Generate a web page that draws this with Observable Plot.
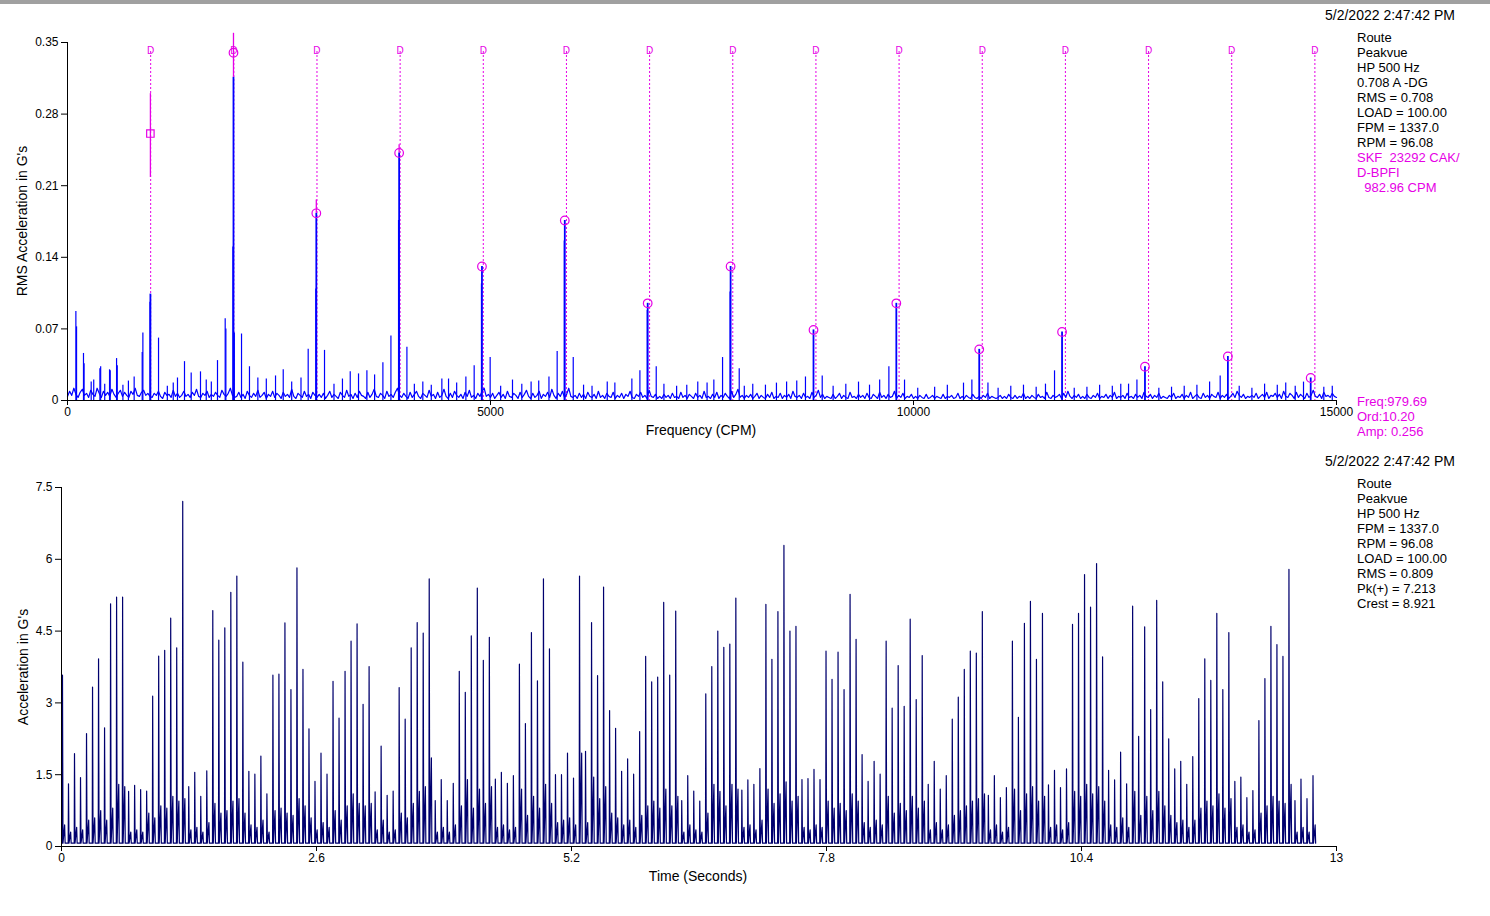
<!DOCTYPE html>
<html><head><meta charset="utf-8">
<script src="https://cdn.jsdelivr.net/npm/d3@7"></script>
<script src="https://cdn.jsdelivr.net/npm/@observablehq/plot@0.6"></script>
<style>
html,body{margin:0;padding:0;background:#fff;}
body{width:1490px;height:916px;position:relative;overflow:hidden;font-family:"Liberation Sans",Arial,sans-serif;color:#000;}
#topbar{position:absolute;left:0;top:0;width:1490px;height:4px;background:#a0a0a0;}
.abs{position:absolute;white-space:pre;line-height:15px;font-size:13px;}
.mag{color:#e600e6;}
.date{font-size:14px;}
.title{position:absolute;font-size:14px;white-space:pre;transform:translate(-50%,-50%);}
.ytitle{position:absolute;font-size:14px;white-space:pre;transform:translate(-50%,-50%) rotate(-90deg);}
#top,#bottom{position:absolute;left:0;}
#top{top:0;} #bottom{top:450px;}
</style></head>
<body>
<div id="topbar"></div>
<div id="top"></div>
<div id="bottom"></div>
<div id="texts"></div>
<script>
// ---------- Spectrum (top) ----------
const freqTicks = [0, 5000, 10000, 15000];
const ampTicks = [0, 0.07, 0.14, 0.21, 0.28, 0.35];
const specFloorStep = 25; // CPM between floor samples
// noise floor, in milli-G
const specFloorMilliG = [
4,9,5,12,6,3,8,11,5,7, 3,10,6,4,12,7,3,9,5,8, 4,11,6,3,7,10,4,8,5,3, 9,6,12,5,4,8,10,5,7,4,
3,7,5,9,4,2,8,5,6,3, 10,4,7,3,5,9,4,6,3,8, 5,11,4,3,7,5,9,3,6,4, 8,5,3,10,6,4,7,12,5,3,
4,8,3,6,2,9,5,3,7,4, 10,3,5,8,2,6,4,9,3,7, 5,2,8,4,6,3,11,4,2,7, 5,3,9,4,6,2,8,5,3,6,
3,7,2,5,9,3,6,4,2,8, 5,3,10,4,6,2,7,3,9,5, 4,2,8,3,6,11,4,3,7,5, 2,9,4,6,3,8,12,5,3,7,
4,2,8,3,6,9,4,2,7,5, 3,10,4,6,2,8,3,5,11,4, 2,7,3,9,5,3,6,2,8,4, 10,3,5,2,7,4,9,12,4,6,
3,7,2,5,8,3,6,2,9,4, 3,7,5,2,8,3,6,10,4,2, 7,3,5,9,2,6,4,8,3,11, 5,2,7,4,9,3,6,12,4,3,
5,2,7,3,6,2,8,4,3,6, 2,9,3,5,2,7,4,3,8,2, 5,3,7,2,6,4,9,3,2,6, 4,8,3,5,2,10,4,3,6,2,
4,2,6,3,5,2,7,3,4,2, 8,3,5,2,6,4,2,7,3,5, 2,9,3,4,2,6,3,8,2,5, 3,7,4,2,9,3,6,11,3,5,
2,5,3,6,2,4,7,2,5,3, 2,6,3,8,2,4,3,7,2,5, 3,6,2,9,4,3,5,2,7,3, 4,2,8,3,5,10,3,6,2,4,
3,2,6,2,4,7,2,5,3,2, 8,3,4,2,6,3,5,2,7,3, 2,6,4,2,8,3,5,2,6,3, 4,9,2,5,3,7,2,4,3,6,
2,4,2,5,3,2,6,2,3,5, 2,4,3,2,6,2,4,3,5,2, 3,7,2,4,2,5,3,2,6,3, 2,4,2,5,3,7,2,4,3,2,
3,5,2,4,2,6,3,2,5,2, 4,3,7,2,4,2,5,3,2,6, 3,4,2,8,3,2,5,3,4,6, 2,7,3,9,4,2,5,3,6,2,
4,2,6,3,2,5,3,7,2,4, 3,6,2,5,3,8,2,4,3,5, 2,7,3,4,2,6,3,5,2,8, 4,3,6,2,5,3,7,2,4,3,
2,5,3,7,2,4,3,6,2,5, 3,8,2,4,6,3,2,7,3,5, 2,6,4,3,8,2,5,3,6,2, 4,7,3,9,5,3,6,2,4,3,
5,3,7,2,4,6,3,8,2,5, 4,7,3,6,2,9,4,3,7,5, 2,8,3,6,4,2,7,3,5,10, 4,3,6,2,8,4,5,3,7,4,
3];
// harmonic peaks of the inner-race defect (measured)
const harmonicFreq = [980,1962,2941,3920,4899,5878,6858,7838,8818,9797,10777,11756,12736,13716,14695];
const harmonicAmp  = [0.104,0.316,0.183,0.242,0.131,0.176,0.095,0.131,0.069,0.095,0.050,0.067,0.033,0.043,0.022];
// peak-marker circles (harmonics 2..15)
const circleFreq = [1962,2941,3920,4899,5878,6858,7838,8818,9797,10777,11756,12736,13716,14695];
const circleAmp  = [0.340,0.183,0.242,0.131,0.176,0.095,0.131,0.069,0.095,0.050,0.067,0.033,0.043,0.022];
// other spectral lines (sidebands, companions, minor peaks)
const lineFreq = [99,107,189,196,280,310,383,392,440,497,505,580,588,655,720,788,883,891,975,1076,1180,1250,1300,1383,1462,1572,1640,1700,1773,1864,1872,1955,1972,
2057,2151,2250,2350,2459,2550,2650,2760,2845,2935,3038,3150,3250,3342,3440,3539,3630,3728,3823,3913,4012,4100,4200,4300,4425,4504,4600,4709,4807,4893,4996,
5120,5260,5370,5480,5570,5691,5788,5872,5978,6100,6200,6380,6470,6671,6766,6853,6959,7050,7200,7320,7450,7560,7640,7743,7832,7940,
8000,8100,8250,8380,8500,8620,8723,8921,9050,9200,9350,9480,9600,9709,9894,10050,10250,10400,10591,10690,10880,11000,11150,11300,11450,11560,11667,11900,
12050,12200,12350,12450,12542,12641,12900,13050,13200,13350,13500,13625,13850,14000,14150,14300,14400,14512,14610,14850,14950];
const lineAmp = [0.087,0.072,0.046,0.036,0.018,0.020,0.031,0.033,0.016,0.030,0.029,0.041,0.034,0.015,0.019,0.023,0.047,0.066,0.096,0.061,0.014,0.017,0.022,0.038,0.027,0.028,0.020,0.018,0.039,0.080,0.070,0.150,0.066,
0.065,0.033,0.022,0.021,0.024,0.030,0.018,0.022,0.050,0.109,0.049,0.016,0.021,0.028,0.026,0.029,0.025,0.037,0.063,0.176,0.052,0.016,0.018,0.015,0.021,0.021,0.017,0.023,0.034,0.114,0.042,
0.014,0.020,0.016,0.018,0.019,0.023,0.048,0.156,0.042,0.015,0.014,0.018,0.017,0.021,0.029,0.088,0.033,0.016,0.014,0.015,0.018,0.017,0.020,0.042,0.106,0.031,
0.014,0.016,0.015,0.017,0.018,0.019,0.023,0.024,0.014,0.016,0.018,0.015,0.020,0.033,0.020,0.012,0.013,0.015,0.017,0.020,0.017,0.012,0.014,0.015,0.013,0.016,0.029,0.012,
0.013,0.015,0.014,0.016,0.016,0.020,0.012,0.013,0.014,0.015,0.018,0.024,0.014,0.012,0.016,0.015,0.017,0.014,0.018,0.013,0.014];
// fault-frequency markers: D-BPFI 982.96 CPM and harmonics
const faultFreq = [982.96,1965.92,2948.88,3931.84,4914.80,5897.76,6880.72,7863.68,8846.64,9829.60,10812.56,11795.52,12778.48,13761.44,14744.40];
// magenta highlighted segments of marked peaks
const segFreq = [980,1962,2941,3920];
const segLow  = [0.218,0.316,0.183,0.242];
const segHigh = [0.300,0.359,0.196,0.250];
// cursor (square drawn where the picture shows it)
const cursorFreq = [979.69];
const cursorAmp = [0.261];

// ---------- Waveform (bottom) ----------
const timeTicks = [0, 2.6, 5.2, 7.8, 10.4, 13];
const accTicks = [0, 1.5, 3, 4.5, 6, 7.5];
const impactStart = 0.01;     // s
const impactPeriod = 0.0613;  // s, spacing of impacts
const waveFloor = 0.07;
const impactAmp = [
3.58,1.31,1.94,1.44,2.36,3.33,3.92,2.48,5.07,5.21,
5.21,1.15,1.28,1.19,1.16,3.14,3.98,4.10,4.77,4.15,
7.21,1.25,1.55,1.05,1.58,4.93,4.31,4.57,5.31,5.65,
3.85,1.57,1.51,1.89,1.10,3.58,3.60,4.67,3.28,5.82,
3.70,2.46,1.36,1.95,1.51,3.45,2.68,3.66,4.29,4.65,
2.97,3.76,1.14,2.10,1.07,1.16,3.32,2.66,4.15,4.68,
4.46,5.59,0.96,1.40,0.96,1.32,3.66,3.22,4.40,5.40,
3.89,4.37,1.41,1.55,1.32,1.48,3.81,2.57,4.47,3.46,
5.59,4.13,1.50,1.50,1.95,1.43,5.65,1.99,4.68,3.57,
5.42,2.84,2.47,1.57,1.83,1.51,2.40,3.97,3.44,3.54,
5.10,3.58,4.92,0.96,1.48,1.16,0.95,3.19,3.76,4.50,
4.16,4.23,5.19,1.18,1.39,1.30,1.63,5.06,3.91,4.91,
6.29,4.50,4.60,1.40,1.42,1.61,1.40,4.08,3.49,4.06,
3.28,5.27,4.33,1.92,1.36,1.78,1.51,4.29,2.89,3.78,
2.93,4.75,3.07,3.99,1.30,1.78,1.20,1.48,2.66,3.12,
3.70,4.08,4.04,4.91,1.07,1.48,1.02,1.23,4.29,2.70,
4.66,5.12,3.91,4.87,1.29,1.59,1.23,1.62,4.64,4.87,
5.68,5.00,5.91,3.96,1.59,1.39,1.97,1.31,5.02,2.30,
4.59,2.86,5.14,3.44,2.25,1.62,1.78,1.30,1.88,3.09,
3.92,3.47,4.87,3.28,4.47,1.36,1.45,1.02,1.17,2.63,
3.51,4.60,4.22,3.97,5.79,0.96,1.41,1.00,1.48];
const ringAmp = [
0.45,0.30,0.40,0.35,0.55,0.60,0.75,0.55,0.80,1.30,
1.25,0.30,0.35,0.30,0.70,0.60,0.85,0.80,1.05,0.95,
1.00,0.35,0.40,0.30,0.50,0.90,0.70,0.75,0.95,1.00,
0.70,0.45,0.40,0.55,0.30,0.75,0.80,0.70,0.65,1.00,
0.85,0.60,0.35,0.50,0.40,0.75,0.55,0.85,1.10,0.90,
0.85,0.90,0.35,0.55,0.30,0.35,0.70,0.60,0.90,1.15,
1.25,1.85,0.30,0.40,0.30,0.45,0.85,1.40,0.80,1.20,
0.90,1.25,0.40,0.45,0.35,0.40,1.20,0.65,1.05,0.80,
1.30,0.90,0.50,0.55,0.60,0.45,1.95,0.50,1.45,1.00,
1.25,0.70,0.60,0.45,0.55,0.40,0.65,0.85,0.95,0.80,
1.20,0.85,1.05,0.30,0.45,0.35,0.30,0.70,1.30,1.15,
0.85,1.30,1.20,0.40,0.45,0.35,0.55,1.20,0.90,1.10,
1.35,0.95,1.05,0.40,0.35,0.45,0.40,0.95,0.80,0.90,
0.75,1.10,0.95,0.50,0.40,0.55,0.45,1.05,0.70,0.90,
0.75,1.05,0.80,0.95,0.35,0.50,0.35,0.45,0.65,0.75,
0.85,0.95,1.00,1.10,0.35,0.45,0.30,0.40,1.20,0.75,
1.10,1.25,0.95,1.05,0.40,0.45,0.35,0.50,1.15,1.05,
1.30,1.10,1.25,0.95,0.45,0.40,0.60,0.40,1.15,0.65,
1.05,0.75,1.15,0.85,0.65,0.50,0.55,0.40,0.55,0.80,
0.95,0.85,1.10,0.80,1.00,0.40,0.45,0.30,0.35,0.70,
0.85,1.05,0.95,0.90,1.30,0.30,0.40,0.30,0.45];

// ---------- Text ----------
const stamp = "5/2/2022 2:47:42 PM";
const topInfo = ["Route","Peakvue","HP 500 Hz","0.708 A -DG","RMS = 0.708","LOAD = 100.00","FPM = 1337.0","RPM = 96.08"];
const topFault = ["SKF  23292 CAK/","D-BPFI","  982.96 CPM"];
const cursorInfo = ["Freq:979.69","Ord:10.20","Amp: 0.256"];
const bottomInfo = ["Route","Peakvue","HP 500 Hz","FPM = 1337.0","RPM = 96.08","LOAD = 100.00","RMS = 0.809","Pk(+) = 7.213","Crest = 8.921"];

const BLUE = "#0000ff", NAVY = "#00006e", MAG = "#e600e6";
const FONT = '"Liberation Sans", Arial, sans-serif';

// build tables
const floorPts = specFloorMilliG.map((m, i) => ({f: i * specFloorStep, a: m / 1000}));
const harm = harmonicFreq.map((f, i) => ({f, a: harmonicAmp[i]}));
const circles = circleFreq.map((f, i) => ({f, a: circleAmp[i]}));
const lines = lineFreq.map((f, i) => ({f, a: lineAmp[i]}));
const segs = segFreq.map((f, i) => ({f, lo: segLow[i], hi: segHigh[i]}));
const cursor = cursorFreq.map((f, i) => ({f, a: cursorAmp[i]}));

const topPlot = Plot.plot({
  width: 1345, height: 445,
  marginLeft: 67, marginRight: 9, marginTop: 42, marginBottom: 45,
  x: {domain: [0, 15000]},
  y: {domain: [0, 0.35]},
  style: {fontFamily: FONT, fontSize: "12px", color: "black", background: "transparent", overflow: "visible"},
  marks: [
    Plot.ruleX(faultFreq, {stroke: MAG, strokeWidth: 1, strokeDasharray: "2,2", insetTop: 9}),
    Plot.text(faultFreq, {x: d => d, frameAnchor: "top", dy: 4, text: () => "D", fill: MAG, fontSize: 10}),
    Plot.line(floorPts, {x: "f", y: "a", stroke: BLUE, strokeWidth: 1.2}),
    Plot.ruleX(lines, {x: "f", y1: 0, y2: "a", stroke: BLUE, strokeWidth: 1.2}),
    Plot.ruleX(harm, {x: "f", y1: 0, y2: "a", stroke: BLUE, strokeWidth: 1.8}),
    Plot.ruleX(segs, {x: "f", y1: "lo", y2: "hi", stroke: MAG, strokeWidth: 1.3}),
    Plot.dot(circles, {x: "f", y: "a", r: 4.3, stroke: MAG, strokeWidth: 1.2, fill: "none"}),
    Plot.dot(cursor, {x: "f", y: "a", symbol: "square", r: 4.2, stroke: MAG, strokeWidth: 1.2, fill: "none"}),
    Plot.ruleY([0], {stroke: "black"}),
    Plot.ruleX([0], {stroke: "black"}),
    Plot.axisX({ticks: freqTicks, tickSize: 5, tickPadding: 2, tickFormat: d => String(d), label: null}),
    Plot.axisY({ticks: ampTicks, tickSize: 6, tickPadding: 3, tickFormat: d => String(d), label: null})
  ]
});
document.getElementById("top").appendChild(topPlot);

const wave = [];
impactAmp.forEach((a, i) => {
  const t = impactStart + i * impactPeriod;
  wave.push({t: t - 0.003, g: waveFloor}, {t, g: a}, {t: t + 0.005, g: waveFloor},
            {t: t + 0.022, g: ringAmp[i]}, {t: t + 0.027, g: waveFloor});
});

const bottomPlot = Plot.plot({
  width: 1345, height: 440,
  marginLeft: 61, marginRight: 9, marginTop: 37, marginBottom: 44,
  x: {domain: [0, 13]},
  y: {domain: [0, 7.5]},
  style: {fontFamily: FONT, fontSize: "12px", color: "black", background: "transparent", overflow: "visible"},
  marks: [
    Plot.line(wave, {x: "t", y: "g", stroke: NAVY, strokeWidth: 1.2}),
    Plot.ruleY([0], {stroke: "black"}),
    Plot.ruleX([0], {stroke: "black"}),
    Plot.axisX({ticks: timeTicks, tickSize: 5, tickPadding: 2, tickFormat: d => String(d), label: null}),
    Plot.axisY({ticks: accTicks, tickSize: 6, tickPadding: 3, tickFormat: d => String(d), label: null})
  ]
});
document.getElementById("bottom").appendChild(bottomPlot);

// text blocks
const T = document.getElementById("texts");
function add(cls, left, top, txt) {
  const d = document.createElement("div");
  d.className = cls; d.style.left = left + "px"; d.style.top = top + "px"; d.textContent = txt;
  T.appendChild(d); return d;
}
add("abs date", 1325, 8, stamp);
topInfo.forEach((s, i) => add("abs", 1357, 30 + i * 15, s));
topFault.forEach((s, i) => add("abs mag", 1357, 150 + i * 15, s));
cursorInfo.forEach((s, i) => add("abs mag", 1357, 394 + i * 15, s));
add("abs date", 1325, 454, stamp);
bottomInfo.forEach((s, i) => add("abs", 1357, 476 + i * 15, s));
add("title", 701, 430, "Frequency (CPM)");
add("title", 698, 876, "Time (Seconds)");
add("ytitle", 22, 221, "RMS Acceleration in G's");
add("ytitle", 23, 667, "Acceleration in G's");
</script>
</body></html>
